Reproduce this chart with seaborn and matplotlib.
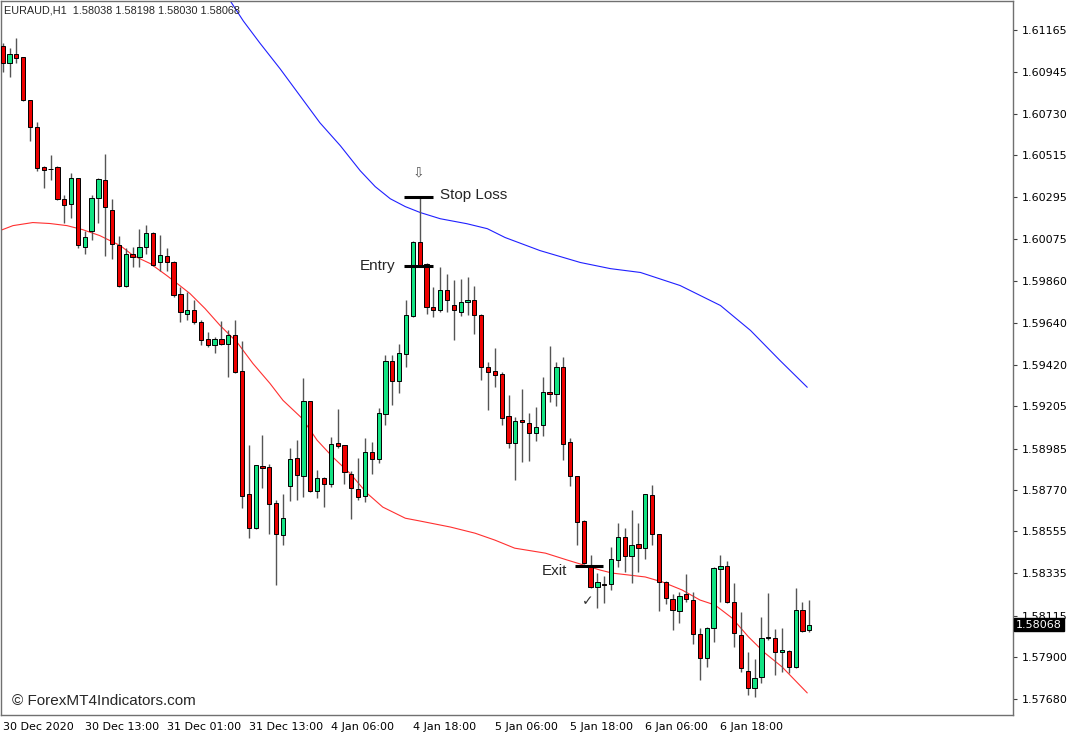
import matplotlib
matplotlib.use("Agg")
import matplotlib.pyplot as plt
import matplotlib.transforms as mtransforms
import seaborn as sns
import pandas as pd

# EURAUD H1 candles, left to right (one value per bar)
opens = [1.61082, 1.60994, 1.61040, 1.61025, 1.60801, 1.60661, 1.60453, 1.60442, 1.60453, 1.60286,
         1.60260, 1.60396, 1.60037, 1.60120, 1.60292, 1.60385, 1.60229, 1.60047, 1.59829, 1.60000,
         1.59980, 1.60037, 1.60110, 1.59959, 1.59990, 1.59959, 1.59792, 1.59688, 1.59709, 1.59642,
         1.59553, 1.59522, 1.59553, 1.59532, 1.59574, 1.59387, 1.58747, 1.58570, 1.58893, 1.58888,
         1.58700, 1.58534, 1.58789, 1.58934, 1.58841, 1.59231, 1.58763, 1.58830, 1.58799, 1.59012,
         1.59002, 1.58851, 1.58773, 1.58737, 1.58966, 1.58929, 1.59163, 1.59439, 1.59335, 1.59475,
         1.59673, 1.60063, 1.59948, 1.59720, 1.59709, 1.59813, 1.59735, 1.59694, 1.59746, 1.59756,
         1.59683, 1.59408, 1.59387, 1.59371, 1.59153, 1.59012, 1.59132, 1.59116, 1.59064, 1.59106,
         1.59278, 1.59267, 1.59408, 1.59018, 1.58841, 1.58607, 1.58373, 1.58264, 1.58279, 1.58279,
         1.58404, 1.58524, 1.58425, 1.58487, 1.58466, 1.58742, 1.58539, 1.58290, 1.58201, 1.58139,
         1.58227, 1.58196, 1.58019, 1.57894, 1.58050, 1.58357, 1.58373, 1.58186, 1.58014, 1.57827,
         1.57738, 1.57796, 1.57998, 1.57998, 1.57926, 1.57931, 1.57848, 1.58144, 1.58038]
highs = [1.61098, 1.61072, 1.61124, 1.61025, 1.60801, 1.60687, 1.60458, 1.60515, 1.60458, 1.60307,
         1.60422, 1.60396, 1.60120, 1.60307, 1.60395, 1.60520, 1.60286, 1.60094, 1.60032, 1.60037,
         1.60130, 1.60151, 1.60115, 1.60099, 1.60032, 1.59962, 1.59824, 1.59798, 1.59761, 1.59652,
         1.59590, 1.59564, 1.59647, 1.59600, 1.59657, 1.59543, 1.59002, 1.58900, 1.59054, 1.58903,
         1.58716, 1.58747, 1.58986, 1.59028, 1.59350, 1.59235, 1.58872, 1.58836, 1.59044, 1.59189,
         1.59005, 1.58867, 1.58934, 1.59038, 1.59018, 1.59194, 1.59470, 1.59470, 1.59532, 1.59761,
         1.60068, 1.60297, 1.59950, 1.59824, 1.59928, 1.59896, 1.59865, 1.59870, 1.59881, 1.59829,
         1.59686, 1.59434, 1.59506, 1.59382, 1.59262, 1.59148, 1.59293, 1.59168, 1.59200, 1.59356,
         1.59517, 1.59434, 1.59460, 1.59038, 1.58844, 1.58612, 1.58430, 1.58336, 1.58321, 1.58472,
         1.58596, 1.58570, 1.58664, 1.58596, 1.58750, 1.58794, 1.58542, 1.58293, 1.58227, 1.58238,
         1.58331, 1.58238, 1.58050, 1.58055, 1.58367, 1.58430, 1.58399, 1.58284, 1.58134, 1.57926,
         1.57889, 1.58108, 1.58232, 1.58045, 1.58050, 1.57934, 1.58258, 1.58186, 1.58198]
lows = [1.60947, 1.60921, 1.60994, 1.60796, 1.60588, 1.60432, 1.60344, 1.60385, 1.60281, 1.60162,
        1.60188, 1.60032, 1.60000, 1.60073, 1.60162, 1.59990, 1.59974, 1.59824, 1.59824, 1.59928,
        1.59933, 1.60000, 1.59938, 1.59912, 1.59912, 1.59772, 1.59642, 1.59652, 1.59636, 1.59522,
        1.59512, 1.59480, 1.59522, 1.59356, 1.59376, 1.58674, 1.58518, 1.58565, 1.58778, 1.58539,
        1.58274, 1.58482, 1.58711, 1.58716, 1.58732, 1.58758, 1.58726, 1.58680, 1.58784, 1.58986,
        1.58799, 1.58617, 1.58716, 1.58706, 1.58851, 1.58908, 1.59106, 1.59210, 1.59272, 1.59408,
        1.59668, 1.59938, 1.59688, 1.59668, 1.59694, 1.59694, 1.59548, 1.59673, 1.59683, 1.59579,
        1.59340, 1.59184, 1.59304, 1.59106, 1.58986, 1.58820, 1.58914, 1.58919, 1.59023, 1.59049,
        1.59226, 1.59205, 1.58924, 1.58789, 1.58482, 1.58383, 1.58259, 1.58154, 1.58180, 1.58248,
        1.58368, 1.58342, 1.58284, 1.58342, 1.58409, 1.58482, 1.58139, 1.58175, 1.58040, 1.58076,
        1.58186, 1.57967, 1.57780, 1.57848, 1.57978, 1.58186, 1.58181, 1.57952, 1.57822, 1.57702,
        1.57692, 1.57764, 1.57988, 1.57806, 1.57822, 1.57816, 1.57842, 1.58030, 1.58030]
closes = [1.60994, 1.61040, 1.61020, 1.60801, 1.60661, 1.60448, 1.60437, 1.60440, 1.60286, 1.60255,
          1.60396, 1.60047, 1.60089, 1.60292, 1.60390, 1.60245, 1.60052, 1.59829, 1.60000, 1.59980,
          1.60037, 1.60110, 1.59943, 1.59995, 1.59959, 1.59787, 1.59694, 1.59709, 1.59642, 1.59548,
          1.59522, 1.59553, 1.59532, 1.59574, 1.59382, 1.58737, 1.58570, 1.58898, 1.58882, 1.58695,
          1.58539, 1.58622, 1.58929, 1.58846, 1.59231, 1.58763, 1.58830, 1.58799, 1.59007, 1.58997,
          1.58862, 1.58778, 1.58732, 1.58966, 1.58929, 1.59168, 1.59439, 1.59335, 1.59480, 1.59678,
          1.60063, 1.59943, 1.59720, 1.59709, 1.59813, 1.59756, 1.59709, 1.59746, 1.59756, 1.59683,
          1.59408, 1.59382, 1.59366, 1.59142, 1.59012, 1.59127, 1.59122, 1.59064, 1.59096, 1.59278,
          1.59267, 1.59408, 1.59007, 1.58841, 1.58602, 1.58388, 1.58264, 1.58290, 1.58276, 1.58409,
          1.58524, 1.58425, 1.58482, 1.58466, 1.58747, 1.58539, 1.58290, 1.58206, 1.58144, 1.58217,
          1.58201, 1.58019, 1.57894, 1.58050, 1.58362, 1.58373, 1.58186, 1.58024, 1.57842, 1.57738,
          1.57790, 1.57998, 1.58001, 1.57926, 1.57936, 1.57848, 1.58144, 1.58035, 1.58068]

# moving averages at a few bars
red_ma_bar = [-0.4, 1.5, 4.4, 6.9, 9.4, 11.7, 14.2, 17.2, 19.1, 21.6, 24.0, 25.9, 27.4, 29.6, 31.8,
              34.3, 36.6, 39.1, 41.0, 43.8, 46.0, 48.3, 50.8, 53.3, 55.6, 58.9, 61.1, 65.5, 69.1,
              72.0, 74.9, 79.4, 82.6, 87.4, 89.2, 94.0, 96.5, 99.4, 102.0, 104.2, 106.7, 109.1,
              111.5, 114.0, 117.7]
red_ma = [1.60120, 1.60146, 1.60162, 1.60157, 1.60146, 1.60125, 1.60094, 1.60042, 1.59990, 1.59948,
          1.59886, 1.59834, 1.59792, 1.59714, 1.59626, 1.59538, 1.59428, 1.59324, 1.59236, 1.59142,
          1.59028, 1.58940, 1.58856, 1.58752, 1.58680, 1.58622, 1.58607, 1.58576, 1.58544, 1.58508,
          1.58466, 1.58440, 1.58404, 1.58352, 1.58336, 1.58316, 1.58290, 1.58248, 1.58196, 1.58170,
          1.58102, 1.58004, 1.57920, 1.57848, 1.57712]
blue_ma_bar = [33.3, 35.2, 37.6, 40.6, 43.5, 46.4, 49.4, 52.3, 54.5, 56.7, 58.9, 61.1, 64.0, 67.9,
               70.9, 73.5, 78.6, 84.5, 88.9, 93.3, 99.1, 105.0, 109.4, 113.7, 117.7]
blue_ma = [1.61316, 1.61212, 1.61098, 1.60962, 1.60822, 1.60682, 1.60562, 1.60432, 1.60349, 1.60286,
           1.60245, 1.60214, 1.60182, 1.60156, 1.60130, 1.60084, 1.60016, 1.59954, 1.59922, 1.59902,
           1.59834, 1.59730, 1.59600, 1.59444, 1.59304]

x_tick_bars = [0, 12, 24, 36, 48, 60, 72, 83, 94, 105]
x_tick_labels = ["30 Dec 2020", "30 Dec 13:00", "31 Dec 01:00", "31 Dec 13:00", "4 Jan 06:00",
                 "4 Jan 18:00", "5 Jan 06:00", "5 Jan 18:00", "6 Jan 06:00", "6 Jan 18:00"]
y_ticks = [1.61165, 1.60945, 1.60730, 1.60515, 1.60295, 1.60075, 1.59860, 1.59640, 1.59420,
           1.59205, 1.58985, 1.58770, 1.58555, 1.58335, 1.58115, 1.57900, 1.57680]

# trade marks
stop_price, entry_price, exit_price = 1.60297, 1.59938, 1.58373
last_price = 1.58068

df = pd.DataFrame({"open": opens, "high": highs, "low": lows, "close": closes})
df["bar"] = range(len(df))
df["bull"] = df["close"] >= df["open"]

sns.set_style("white")
plt.rcParams["font.family"] = ["DejaVu Sans"]

fig = plt.figure(figsize=(10.68, 7.35), dpi=100)
ax = fig.add_axes([1 / 1068, 20 / 735, 1012 / 1068, 714 / 735])

# wicks then bodies
ax.vlines(df["bar"], df["low"], df["high"], color="#555555", linewidth=1.0, zorder=2)
body_low = df[["open", "close"]].min(axis=1)
body_h = (df["open"] - df["close"]).abs().clip(lower=0.00003)
colors = ["#12E383" if b else "#EE0000" for b in df["bull"]]
ax.bar(df["bar"], body_h, bottom=body_low, width=0.62, color=colors,
       edgecolor="black", linewidth=0.7, zorder=3)

# moving averages
sns.lineplot(x=red_ma_bar, y=red_ma, ax=ax, color="#FF3030", linewidth=0.8,
             sort=False, estimator=None, zorder=1)
sns.lineplot(x=blue_ma_bar, y=blue_ma, ax=ax, color="#2020FF", linewidth=0.8,
             sort=False, estimator=None, zorder=1)

# trade levels
ax.hlines([stop_price, entry_price], 58.7, 63.0, color="black", linewidth=2.2, zorder=4)
ax.hlines(exit_price, 83.7, 87.8, color="black", linewidth=2.2, zorder=4)
ax.text(64.0, 1.60307, "Stop Loss", fontsize=11, family="Liberation Sans", va="center", ha="left")
ax.text(57.4, 1.59938, "Entry", fontsize=11, family="Liberation Sans", va="center", ha="right")
ax.text(82.6, 1.58347, "Exit", fontsize=11, family="Liberation Sans", va="center", ha="right")
ax.text(60.8, 1.60422, "\u21e9", fontsize=10, color="#555555", va="center", ha="center")
ax.text(85.6, 1.58191, "\u2713", fontsize=10, color="#333333", va="center", ha="center")

ax.text(0.011, 0.0195, "\u00a9 ForexMT4Indicators.com", transform=ax.transAxes,
        fontsize=11, family="Liberation Sans", va="center", ha="left")
ax.text(0.003, 0.986, "EURAUD,H1  1.58038 1.58198 1.58030 1.58068", transform=ax.transAxes,
        fontsize=7.8, family="Liberation Sans", va="center", ha="left")

ax.set_xlim(-0.25, 147.8)
ax.set_ylim(1.57597, 1.61316)

ax.yaxis.tick_right()
ax.set_yticks(y_ticks)
ax.set_yticklabels([f"{v:.5f}" for v in y_ticks])
ax.set_xticks(x_tick_bars)
ax.set_xticklabels(x_tick_labels)
for lab in ax.get_xticklabels():
    lab.set_horizontalalignment("left")
ax.tick_params(axis="both", direction="out", length=3, width=0.8, color="#404040",
               labelsize=8, pad=3, labelcolor="black")
ax.tick_params(axis="x", pad=2)

for s in ax.spines.values():
    s.set_color("#707070")
    s.set_linewidth(1.0)

# current price tag on the price scale
tag_tr = mtransforms.offset_copy(mtransforms.blended_transform_factory(ax.transAxes, ax.transData),
                                 fig=fig, x=3, y=0, units="dots")
ax.text(1.0, last_price, "1.58068", transform=tag_tr, fontsize=8, color="white",
        va="center", ha="left", bbox=dict(boxstyle="square,pad=0.15", fc="black", ec="black"))

fig.savefig("out.png", dpi=100)
